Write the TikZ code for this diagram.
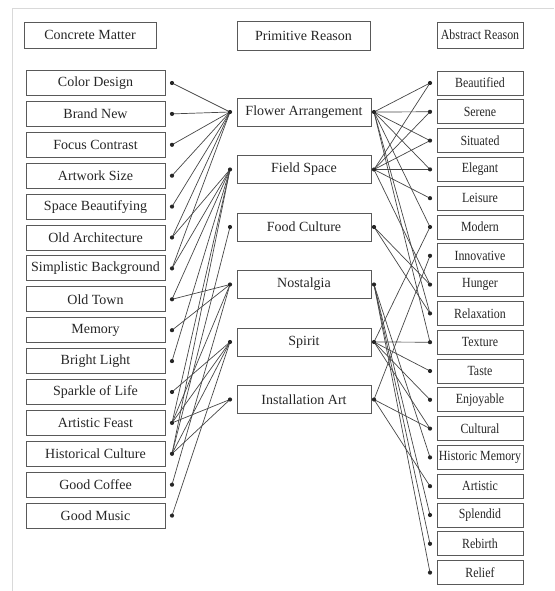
\documentclass[tikz,border=0pt]{standalone}
\usepackage{graphicx}
\usepackage{fontspec}
\setmainfont{Liberation Serif}
\newcommand{\rtxt}[1]{\scalebox{0.85}[1]{#1}}
\begin{document}
\begin{tikzpicture}[x=1pt,y=-1pt,
  box/.style={draw=black!65,line width=0.9pt,inner sep=0pt,font=\fontsize{14}{16}\selectfont,text=black!85},
  lbox/.style={box,minimum width=139pt,minimum height=25pt},
  mbox/.style={box,minimum width=134pt,minimum height=28pt},
  rbox/.style={box,minimum width=86pt,minimum height=24pt},
  link/.style={draw=black!72,line width=0.7pt}]
\useasboundingbox (0,0) rectangle (554,591);
\draw[black!15,line width=0.8pt] (12,591) -- (12,8) -- (554,8);
% headers
\node[box,minimum width=132pt,minimum height=26pt] (hc) at (90,35) {Concrete Matter};
\node[box,minimum width=133pt,minimum height=29pt] (hp) at (303.5,35.5) {Primitive Reason};
\node[rbox,minimum height=26pt] (ha) at (480,35) {\rtxt{Abstract Reason}};
% left column
\foreach \t [count=\i] in {Color Design,Brand New,Focus Contrast,Artwork Size,Space Beautifying,Old Architecture,Simplistic Background,Old Town,Memory,Bright Light,Sparkle of Life,Artistic Feast,Historical Culture,Good Coffee,Good Music}{
  \node[lbox] (L\i) at (95.5,{83+30.9*(\i-1)}) {\t};
  \coordinate (dl\i) at (172,{83+30.9*(\i-1)});
}
% middle column
\foreach \t [count=\i] in {Flower Arrangement,Field Space,Food Culture,Nostalgia,Spirit,Installation Art}{
  \node[mbox] (M\i) at (304,{112+57.5*(\i-1)}) {\t};
  \coordinate (ml\i) at (230,{112+57.5*(\i-1)});
  \coordinate (mr\i) at (374,{112+57.5*(\i-1)});
}
% right column
\foreach \t [count=\i] in {Beautified,Serene,Situated,Elegant,Leisure,Modern,Innovative,Hunger,Relaxation,Texture,Taste,Enjoyable,Cultural,Historic Memory,Artistic,Splendid,Rebirth,Relief}{
  \node[rbox] (R\i) at (480,{83+28.8*(\i-1)}) {\rtxt{\t}};
  \coordinate (dr\i) at (430,{83+28.8*(\i-1)});
}
% left links
\foreach \m/\l in {1/1,1/2,1/3,1/4,1/5,1/6,1/7,
  2/6,2/7,2/8,2/10,2/12,2/13,
  3/13,
  4/8,4/9,4/12,4/14,
  5/11,5/12,5/13,5/15,
  6/12,6/13}{
  \draw[link] (ml\m) -- (dl\l);
}
% right links
\foreach \m/\r in {1/1,1/2,1/3,1/4,1/6,1/9,1/10,
  2/1,2/2,2/3,2/4,2/5,2/8,
  3/8,3/9,
  4/14,4/16,4/17,4/18,
  5/6,5/10,5/11,5/12,5/13,
  6/7,6/13,6/15}{
  \draw[link] (mr\m) -- (dr\r);
}
% dots
\foreach \i in {1,...,15}{\fill[black!85] (dl\i) circle (2.1);}
\foreach \i in {1,...,6}{\fill[black!85] (ml\i) circle (2.1); \fill[black!85] (mr\i) circle (2.1);}
\foreach \i in {1,...,18}{\fill[black!85] (dr\i) circle (2.1);}
\end{tikzpicture}
\end{document}
